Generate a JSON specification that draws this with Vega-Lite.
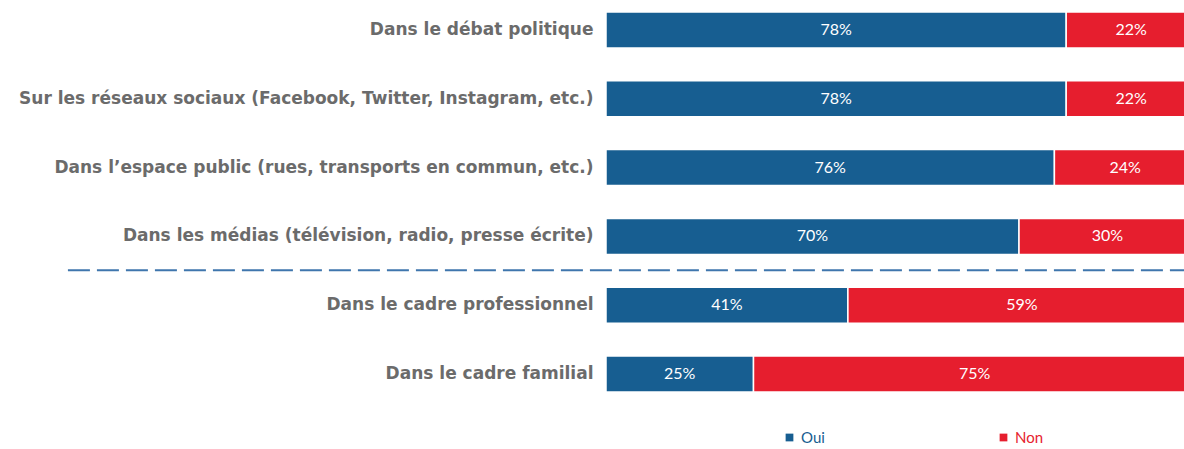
{
  "$schema": "https://vega.github.io/schema/vega-lite/v6.json",
  "autosize": {"type": "none"},
  "padding": {"left": 606, "top": 0, "right": 0, "bottom": 45},
  "width": 590,
  "height": 404,
  "background": "white",
  "config": {"view": {"stroke": null}},
  "data": {"values": [
    {"cat": "Dans le débat politique", "rep": "Oui", "value": 0.78},
    {"cat": "Dans le débat politique", "rep": "Non", "value": 0.22},
    {"cat": "Sur les réseaux sociaux (Facebook, Twitter, Instagram, etc.)", "rep": "Oui", "value": 0.78},
    {"cat": "Sur les réseaux sociaux (Facebook, Twitter, Instagram, etc.)", "rep": "Non", "value": 0.22},
    {"cat": "Dans l’espace public (rues, transports en commun, etc.)", "rep": "Oui", "value": 0.76},
    {"cat": "Dans l’espace public (rues, transports en commun, etc.)", "rep": "Non", "value": 0.24},
    {"cat": "Dans les médias (télévision, radio, presse écrite)", "rep": "Oui", "value": 0.70},
    {"cat": "Dans les médias (télévision, radio, presse écrite)", "rep": "Non", "value": 0.30},
    {"cat": "Dans le cadre professionnel", "rep": "Oui", "value": 0.41},
    {"cat": "Dans le cadre professionnel", "rep": "Non", "value": 0.59},
    {"cat": "Dans le cadre familial", "rep": "Oui", "value": 0.25},
    {"cat": "Dans le cadre familial", "rep": "Non", "value": 0.75}
  ]},
  "transform": [
    {"stack": "value", "groupby": ["cat"], "sort": [{"field": "rep", "order": "descending"}], "as": ["v0", "v1"]},
    {"calculate": "(datum.v0 + datum.v1) / 2", "as": "mid"}
  ],
  "encoding": {
    "y": {
      "field": "cat", "type": "nominal", "title": null,
      "sort": [
        "Dans le débat politique",
        "Sur les réseaux sociaux (Facebook, Twitter, Instagram, etc.)",
        "Dans l’espace public (rues, transports en commun, etc.)",
        "Dans les médias (télévision, radio, presse écrite)",
        "Dans le cadre professionnel",
        "Dans le cadre familial"
      ],
      "scale": {"paddingInner": 0.477, "paddingOuter": 0.174},
      "axis": {
        "domain": false, "ticks": false, "grid": false,
        "labelFont": "DejaVu Sans", "labelFontWeight": "bold", "labelFontSize": 17,
        "labelColor": "#6b6b6b", "labelPadding": 13, "labelLimit": 700
      }
    },
    "x": {"field": "v0", "type": "quantitative", "scale": {"domain": [0, 1], "nice": false, "zero": false}, "axis": null},
    "x2": {"field": "v1"}
  },
  "layer": [
    {
      "transform": [{"filter": "datum.rep === 'Oui'"}],
      "mark": {"type": "bar", "stroke": "white", "strokeWidth": 1.5},
      "encoding": {
        "fill": {
          "field": "rep", "type": "nominal", "title": null,
          "scale": {"domain": ["Oui"], "range": ["#175e91"]},
          "legend": {
            "orient": "none", "legendX": 176, "legendY": 430,
            "symbolType": "square", "symbolSize": 60, "symbolStrokeWidth": 0,
            "labelFont": "Lato", "labelFontSize": 15, "labelOffset": 4, "labelColor": "#175e91"
          }
        }
      }
    },
    {
      "transform": [{"filter": "datum.rep === 'Non'"}],
      "mark": {"type": "bar", "stroke": "white", "strokeWidth": 1.5},
      "encoding": {
        "color": {
          "field": "rep", "type": "nominal", "title": null,
          "scale": {"domain": ["Non"], "range": ["#e61e2e"]},
          "legend": {
            "orient": "none", "legendX": 390, "legendY": 430,
            "symbolType": "square", "symbolSize": 60, "symbolStrokeWidth": 0,
            "labelFont": "Lato", "labelFontSize": 15, "labelOffset": 4, "labelColor": "#e61e2e"
          }
        }
      }
    },
    {
      "mark": {"type": "text", "color": "white", "font": "Lato", "fontSize": 16, "align": "center", "baseline": "middle"},
      "encoding": {
        "x": {"field": "mid", "type": "quantitative"},
        "x2": null,
        "text": {"field": "value", "type": "quantitative", "format": ".0%"}
      }
    },
    {
      "data": {"values": [{"cat": "Dans le cadre professionnel", "start": -0.912, "end": 1}]},
      "mark": {"type": "rule", "color": "#3f76ad", "strokeWidth": 2, "strokeDash": [22, 7], "yOffset": -17},
      "encoding": {
        "y": {"field": "cat", "type": "nominal", "bandPosition": 0},
        "x": {"field": "start", "type": "quantitative"},
        "x2": {"field": "end"}
      }
    }
  ]
}
